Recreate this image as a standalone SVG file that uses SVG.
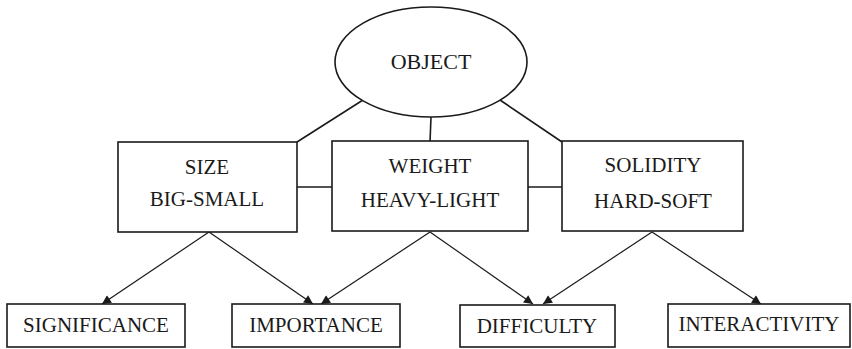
<svg xmlns="http://www.w3.org/2000/svg" width="852" height="349" viewBox="0 0 852 349">
<style>
.n{fill:#fff;stroke:#1a1a1a;stroke-width:1.6}
.t{font-family:"Liberation Serif","Times New Roman",serif;font-size:21px;fill:#1a1a1a;text-anchor:middle}
.c{stroke:#1a1a1a;stroke-width:1.6;fill:none}
.a{stroke:#1a1a1a;stroke-width:1.2;fill:none;marker-end:url(#ah)}
</style>
<defs>
<marker id="ah" viewBox="0 0 10 10" refX="10" refY="5" markerWidth="11" markerHeight="9" markerUnits="userSpaceOnUse" orient="auto">
<path d="M0,0 L10,5 L0,10 Z" fill="#1a1a1a"/>
</marker>
</defs>
<g id="connectors">
<line class="c" x1="363" y1="100" x2="297" y2="142"/>
<line class="c" x1="431" y1="117" x2="430" y2="142"/>
<line class="c" x1="500" y1="100" x2="562" y2="142"/>
<line class="c" x1="297" y1="187" x2="332" y2="187"/>
<line class="c" x1="528" y1="187" x2="562" y2="187"/>
<line class="a" x1="209" y1="232" x2="102" y2="304"/>
<line class="a" x1="209" y1="232" x2="313" y2="304"/>
<line class="a" x1="430" y1="232" x2="321" y2="304"/>
<line class="a" x1="430" y1="232" x2="533" y2="304"/>
<line class="a" x1="652" y1="232" x2="543" y2="304"/>
<line class="a" x1="652" y1="232" x2="761" y2="304"/>
</g>
<g id="object">
<ellipse class="n" cx="431" cy="62" rx="96" ry="55"/>
<text class="t" x="431" y="69" style="font-size:22px">OBJECT</text>
</g>
<g id="size">
<rect class="n" x="118" y="142" width="179" height="90"/>
<text class="t" x="207" y="174">SIZE</text>
<text class="t" x="207" y="206">BIG-SMALL</text>
</g>
<g id="weight">
<rect class="n" x="332" y="141" width="196" height="90"/>
<text class="t" x="430" y="173">WEIGHT</text>
<text class="t" x="430" y="207">HEAVY-LIGHT</text>
</g>
<g id="solidity">
<rect class="n" x="562" y="141" width="181" height="90"/>
<text class="t" x="653" y="172">SOLIDITY</text>
<text class="t" x="653" y="208">HARD-SOFT</text>
</g>
<g id="significance">
<rect class="n" x="7" y="304" width="178" height="43"/>
<text class="t" x="96" y="332">SIGNIFICANCE</text>
</g>
<g id="importance">
<rect class="n" x="232" y="304" width="168" height="43"/>
<text class="t" x="316" y="332">IMPORTANCE</text>
</g>
<g id="difficulty">
<rect class="n" x="460" y="305" width="155" height="42"/>
<text class="t" x="537" y="333">DIFFICULTY</text>
</g>
<g id="interactivity">
<rect class="n" x="668" y="304" width="182" height="43"/>
<text class="t" x="759" y="331">INTERACTIVITY</text>
</g>
</svg>
